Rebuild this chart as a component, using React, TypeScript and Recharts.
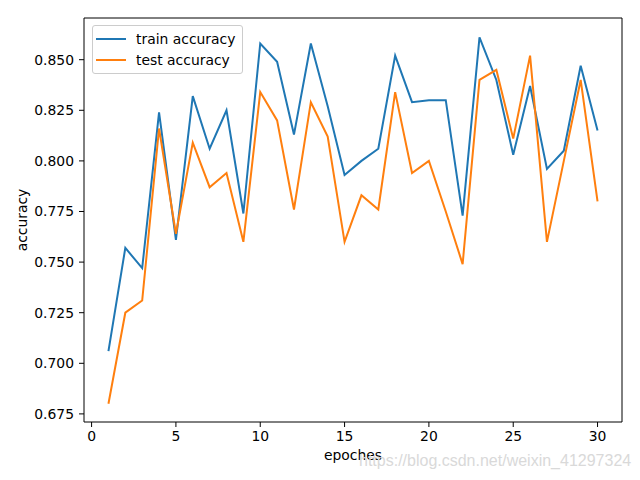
import { LineChart, Line, XAxis, YAxis, Legend, ReferenceLine } from 'recharts';

const epochs = [
    1, 2, 3, 4, 5, 6, 7, 8, 9, 10, 11, 12, 13, 14, 15,
    16, 17, 18, 19, 20, 21, 22, 23, 24, 25, 26, 27, 28, 29, 30,
];

const trainAccuracy = [
    0.706, 0.757, 0.747, 0.824, 0.761, 0.832, 0.806, 0.825, 0.774, 0.858,
    0.849, 0.813, 0.858, 0.827, 0.793, 0.8, 0.806, 0.852, 0.829, 0.830,
    0.830, 0.773, 0.861, 0.840, 0.803, 0.837, 0.796, 0.805, 0.847, 0.815,
];

const testAccuracy = [
    0.680, 0.725, 0.731, 0.816, 0.764, 0.809, 0.787, 0.794, 0.760, 0.834,
    0.820, 0.776, 0.829, 0.812, 0.760, 0.783, 0.776, 0.834, 0.794, 0.800,
    0.775, 0.749, 0.840, 0.845, 0.811, 0.852, 0.760, 0.800, 0.840, 0.780,
];

const seriesNames = ['train accuracy', 'test accuracy'];
const xTicks = [0, 5, 10, 15, 20, 25, 30];
const yTicks = [0.675, 0.7, 0.725, 0.75, 0.775, 0.8, 0.825, 0.85];

const xDomain = [-0.45, 31.45];
const yDomain = [0.671, 0.8706];

const data = epochs.map((epoch, i) => ({
    epoch,
    train: trainAccuracy[i],
    test: testAccuracy[i],
}));

const font = '"DejaVu Sans", sans-serif';
const tickStyle = { fill: '#000', fontSize: 13.9, fontFamily: font };

const YLabel = () => (
    <text
        x={22}
        y={220}
        transform="rotate(-90 22 220)"
        textAnchor="middle"
        dominantBaseline="central"
        fill="#000"
        fontSize={13.9}
        fontFamily={font}
    >
        accuracy
    </text>
);

const LegendBox = ({ payload }: any) => {
    // keep plotting order instead of the alphabetical default
    const items = seriesNames
        .map((name) => (payload || []).find((p: any) => p.value === name))
        .filter(Boolean);
    return (
        <div
            style={{
                border: '1px solid #cccccc',
                borderRadius: 3,
                background: 'rgba(255,255,255,0.8)',
                padding: '2px 7px 3px 3px',
                fontFamily: font,
                fontSize: 13.9,
                color: '#000',
            }}
        >
            {items.map((entry: any) => (
                <div key={entry.value} style={{ display: 'flex', alignItems: 'center', height: 21 }}>
                    <span
                        style={{
                            display: 'inline-block',
                            width: 30,
                            height: 2,
                            background: entry.color,
                            marginRight: 10,
                        }}
                    />
                    <span>{entry.value}</span>
                </div>
            ))}
        </div>
    );
};

export default function App() {
    return (
        <div style={{ position: 'absolute', left: 0, top: 0, width: 640, height: 480, background: '#fff' }}>
            <LineChart width={640} height={480} data={data} margin={{ top: 18, right: 18, left: 0, bottom: 0 }}>
                <XAxis
                    dataKey="epoch"
                    type="number"
                    domain={xDomain}
                    ticks={xTicks}
                    height={58}
                    tick={tickStyle}
                    tickSize={5}
                    tickMargin={4}
                    stroke="#000"
                    allowDataOverflow
                    label={{
                        value: 'epoches',
                        position: 'insideBottom',
                        offset: 20,
                        fill: '#000',
                        fontSize: 13.9,
                        fontFamily: font,
                    }}
                />
                <YAxis
                    type="number"
                    domain={yDomain}
                    ticks={yTicks}
                    width={84}
                    tick={tickStyle}
                    tickSize={5}
                    tickMargin={5}
                    tickFormatter={(v: number) => v.toFixed(3)}
                    stroke="#000"
                    allowDataOverflow
                    label={<YLabel />}
                />
                <ReferenceLine y={yDomain[1]} stroke="#000" strokeWidth={1} />
                <ReferenceLine x={xDomain[1]} stroke="#000" strokeWidth={1} />
                <Legend
                    layout="horizontal"
                    verticalAlign="middle"
                    align="center"
                    wrapperStyle={{ left: 92, top: 25, width: 'auto' }}
                    content={<LegendBox />}
                />
                <Line
                    name="train accuracy"
                    dataKey="train"
                    stroke="#1f77b4"
                    strokeWidth={2}
                    dot={false}
                    isAnimationActive={false}
                />
                <Line
                    name="test accuracy"
                    dataKey="test"
                    stroke="#ff7f0e"
                    strokeWidth={2}
                    dot={false}
                    isAnimationActive={false}
                />
            </LineChart>
            <div
                style={{
                    position: 'absolute',
                    left: 359,
                    top: 452,
                    fontFamily: '"Liberation Sans", Arial, sans-serif',
                    fontSize: 16,
                    color: '#d9d9d9',
                    whiteSpace: 'nowrap',
                }}
            >
                https://blog.csdn.net/weixin_41297324
            </div>
        </div>
    );
}
